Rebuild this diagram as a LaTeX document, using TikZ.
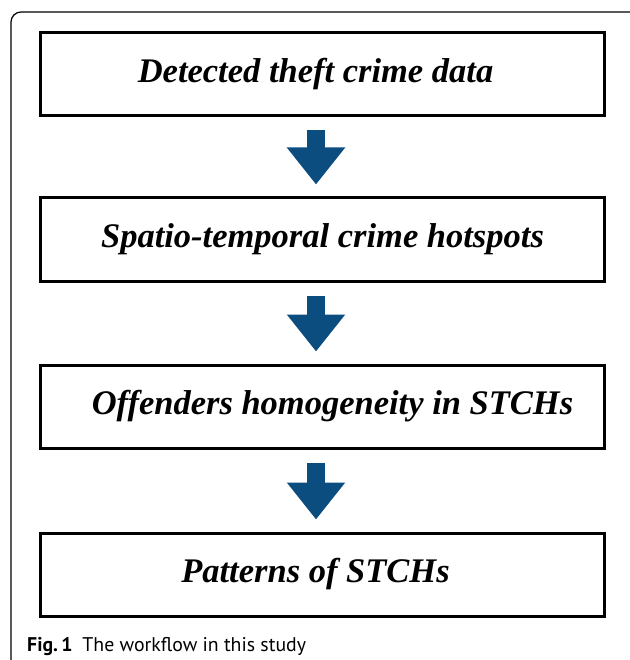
\documentclass[tikz,border=0pt]{standalone}
\usepackage{fontspec}
\setmainfont{Liberation Serif}
\newfontfamily\capfont{PT Sans}
\usetikzlibrary{arrows.meta}
\definecolor{flowblue}{RGB}{12,77,128}
\begin{document}
\begin{tikzpicture}[x=1pt, y=-1pt,
  box/.style={draw,line width=3pt,minimum width=564pt,minimum height=83pt,inner sep=0pt,align=center,
    font=\fontsize{34.5}{40}\selectfont\bfseries\itshape},
  flow/.style={draw=flowblue,line width=18pt,-{Triangle[width=56pt,length=37pt]},shorten <=13pt,shorten >=12pt}]
\useasboundingbox (0,0) rectangle (629,660);
% frame of the figure
\draw[line width=1.2pt,rounded corners=10pt] (21,670) -- (11,670) -- (11,12) -- (640,12);
\node[box] (data) at (322.5,74) {\hspace*{-14pt}Detected theft crime data};
\node[box] (hotspots) at (322.5,239.5) {Spatio-temporal crime hotspots};
\node[box] (homog) at (322.5,406.5) {\hspace*{20pt}Offenders homogeneity in STCHs};
\node[box] (patterns) at (322.5,574.5) {\hspace*{-14pt}Patterns of STCHs};
\draw[flow] ([xshift=-6.5pt]data.south) -- ([xshift=-6.5pt]hotspots.north);
\draw[flow] ([xshift=-6.5pt]hotspots.south) -- ([xshift=-6.5pt]homog.north);
\draw[flow] ([xshift=-6.5pt]homog.south) -- ([xshift=-6.5pt]patterns.north);
\node[anchor=base west,inner sep=0pt,font=\capfont\fontsize{19.8}{23}\selectfont] (caption) at (27,651)
  {\textbf{Fig.\,1}\enspace The workflow in this study};
\end{tikzpicture}
\end{document}
